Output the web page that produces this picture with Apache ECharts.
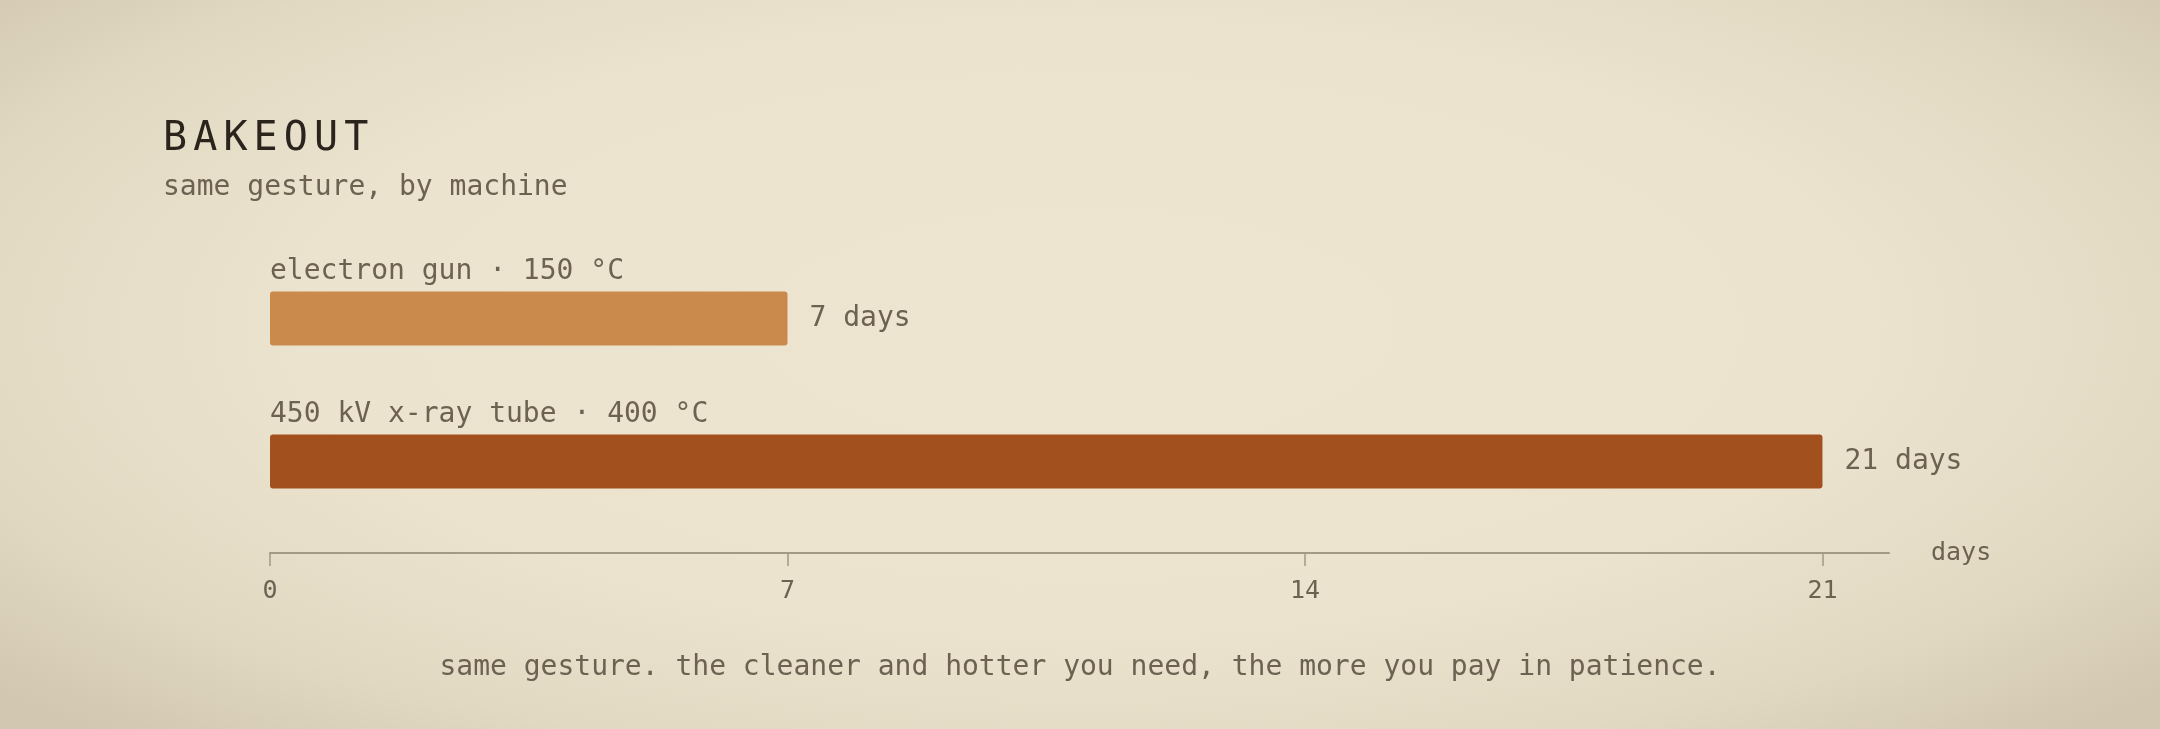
<!DOCTYPE html>
<html>
<head>
<meta charset="utf-8">
<script src="https://cdn.jsdelivr.net/npm/echarts@6/dist/echarts.min.js"></script>
<style>
html,body{margin:0;padding:0;width:2160px;height:729px;overflow:hidden;
background: radial-gradient(ellipse 66% 76% at 50% 45%, #ede5d0 0%, #ebe3cd 55%, #e2d9c3 80%, #d2c8b1 100%);}
#chart{width:2160px;height:729px;}
</style>
</head>
<body>
<div id="chart"></div>
<script>
const categories = ["electron gun · 150 °C", "450 kV x-ray tube · 400 °C"];
const values = [7, 21];
const barColors = ["#c98a4b", "#a3501f"];
const tickValues = [0, 7, 14, 21];
const titleText = "BAKEOUT";
const subtitleText = "same gesture, by machine";
const footnoteText = "same gesture. the cleaner and hotter you need, the more you pay in patience.";
const axisName = "days";

const FONT = '"DejaVu Sans Mono", "Liberation Mono", monospace';
const chart = echarts.init(document.getElementById('chart'), null, {renderer: 'canvas'});

const titleLetters = titleText.split('').map((ch, i) => ({
  type: 'text',
  left: 163 + i * 30.2,
  top: 120,
  style: {text: ch, font: '400 40px ' + FONT, fill: '#2b241d'}
}));

chart.setOption({
  backgroundColor: 'transparent',
  animation: false,
  grid: {left: 270, right: 271, top: 247, height: 286, containLabel: false},
  xAxis: {
    type: 'value', min: 0, max: 21.9, interval: 7, offset: 20,
    axisLine: {show: true, lineStyle: {color: '#a39985', width: 2}},
    axisTick: {show: true, length: 13, customValues: tickValues, lineStyle: {color: '#a39985', width: 1.5}},
    axisLabel: {customValues: tickValues, margin: 26, color: '#6e6152', fontFamily: FONT, fontSize: 25},
    splitLine: {show: false},
    name: axisName, nameLocation: 'end', nameGap: 42,
    nameTextStyle: {color: '#6e6152', fontFamily: FONT, fontSize: 25, align: 'left', verticalAlign: 'middle'}
  },
  yAxis: {
    type: 'category', data: categories, inverse: true,
    axisLine: {show: false}, axisTick: {show: false}, splitLine: {show: false},
    axisLabel: {inside: true, margin: 0, align: 'left', verticalAlign: 'bottom',
      padding: [0, 0, 33, 0], color: '#6e6152', fontFamily: FONT, fontSize: 28, lineHeight: 28}
  },
  series: [{
    type: 'bar',
    barWidth: 54,
    data: values.map((v, i) => ({value: v, itemStyle: {color: barColors[i]}})),
    itemStyle: {borderRadius: 3},
    label: {show: true, position: 'right', distance: 22, formatter: p => p.value + ' days',
      color: '#6e6152', fontFamily: FONT, fontSize: 28}
  }],
  graphic: [
    ...titleLetters,
    {type: 'text', left: 163, top: 174, style: {text: subtitleText, font: '400 28px ' + FONT, fill: '#6e6152'}},
    {type: 'text', left: 'center', top: 654, style: {text: footnoteText, font: '400 28px ' + FONT, fill: '#6e6152'}}
  ]
});
</script>
</body>
</html>
